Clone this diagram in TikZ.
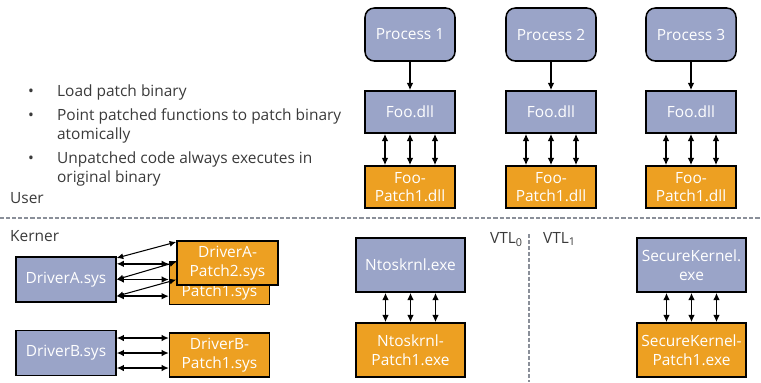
\documentclass[tikz,border=0pt]{standalone}
\usepackage{fontspec}
\setmainfont{Open Sans}
\usetikzlibrary{arrows.meta, positioning, calc}
\definecolor{pblue}{HTML}{9AA4C8}
\definecolor{porange}{HTML}{EDA022}
\definecolor{ptext}{HTML}{3A3A3A}
\definecolor{pgrey}{HTML}{8A8F99}
\tikzset{
  >=Latex,
  font=\fontsize{13.2}{16}\selectfont,
  modbox/.style={
    draw=black, fill=#1, line width=1.3pt, text=white, align=center,
    inner sep=2pt, font=\fontsize{13.2}{16}\selectfont
  },
  modbox/.default=pblue,
  procbox/.style={modbox, rounded corners=8pt, minimum width=2.7cm, minimum height=1.59cm},
  dllbox/.style={modbox=#1, minimum width=2.7cm, minimum height=1.26cm},
  dllbox/.default=pblue,
  exebox/.style={modbox=#1, minimum width=3.27cm, minimum height=1.62cm},
  exebox/.default=pblue,
  drvbox/.style={modbox=#1, minimum width=2.99cm, minimum height=1.35cm},
  drvbox/.default=pblue,
  onearr/.style={->, line width=1.6pt, >={Latex[length=2.2mm,width=2mm]}},
  dblarr/.style={<->, line width=1.6pt, >={Latex[length=2.2mm,width=2mm]}},
  thinarr/.style={<->, line width=0.9pt, >={Latex[length=2mm,width=1.8mm]}},
  sepline/.style={pgrey, line width=1.1pt, dash pattern=on 3.5pt off 1.7pt},
  lab/.style={text=ptext, anchor=base west}
}
\begin{document}
\begin{tikzpicture}[x=0.03cm, y=-0.03cm]
  \useasboundingbox (0,0) rectangle (761,382);
  % bullets
  \foreach \yy/\txt [count=\i] in {96/Load patch binary,
      120/Point patched functions to patch binary, 139/atomically,
      163/Unpatched code always executes in, 182/original binary}
    \node[lab] (item\i) at (53,\yy) {\txt};
  \foreach \i in {1,2,4}
    \node[lab, anchor=base east] (dot\i) at ([xshift=-0.45cm]item\i.base west) {\textbullet};
  \node[lab] (user) at (6,203) {User};
  \node[lab] (kerner) at (6,241) {Kerner};
  \draw[sepline] (0,218) -- (761,218);
  \draw[sepline] (529,234) -- (529,382);
  \node[lab] (vtl0) at (486,243) {VTL\textsubscript{0}};
  \node[lab] (vtl1) at (539,243) {VTL\textsubscript{1}};
  % user processes
  \foreach \xx/\n in {410/1, 551/2, 691/3} {
    \node[procbox, fill=pblue] (proc\n) at (\xx,34.5) {Process \n};
    \node[dllbox] (foo\n) at (\xx,112) {Foo.dll};
    \node[dllbox=porange] (foop\n) at (\xx,187) {Foo-\\Patch1.dll};
    \draw[onearr] (proc\n) -- (foo\n);
    \foreach \dx in {-0.75,0,0.75}
      \draw[dblarr] ([xshift=\dx cm]foo\n.south) -- ([xshift=\dx cm]foop\n.north);
  }
  % kernel images
  \node[exebox] (ntos) at (410.5,265) {Ntoskrnl.exe};
  \node[exebox=porange] (ntosp) at (410.5,350) {Ntoskrnl-\\Patch1.exe};
  \node[exebox] (sk) at (691.5,265) {SecureKernel.\\exe};
  \node[exebox=porange] (skp) at (691.5,350) {SecureKernel-\\Patch1.exe};
  \foreach \dx in {-0.75,0,0.75} {
    \draw[dblarr] ([xshift=\dx cm]ntos.south) -- ([xshift=\dx cm]ntosp.north);
    \draw[dblarr] ([xshift=\dx cm]sk.south) -- ([xshift=\dx cm]skp.north);
  }
  % drivers
  \node[drvbox] (drva) at (66,279.5) {DriverA.sys};
  \node[drvbox=porange, minimum height=1.3cm] (drvap1) at (219.5,283) {DriverA-\\Patch1.sys};
  \node[drvbox=porange, minimum width=3.03cm, minimum height=1.32cm] (drvap2) at (227.5,263) {DriverA-\\Patch2.sys};
  \node[drvbox] (drvb) at (66,353) {DriverB.sys};
  \node[drvbox=porange, minimum height=1.32cm] (drvbp1) at (219.5,355) {DriverB-\\Patch1.sys};
  \foreach \dy in {0.47,0,-0.5}
    \draw[dblarr] ([yshift=\dy cm]drva.east) -- ([yshift=\dy cm]drva.east -| drvap1.west);
  \draw[thinarr] ([yshift=0.645cm]drva.east) -- ([yshift=0.63cm]drvap2.west);
  \draw[thinarr] (drva.east) -- ([yshift=0.03cm]drvap2.west);
  \draw[thinarr] ([yshift=-0.5cm]drva.east) -- ([yshift=-0.5cm]drvap2.west);
  \foreach \dy in {0.45,0,-0.45}
    \draw[dblarr] ([yshift=\dy cm]drvb.east) -- ([yshift=\dy cm]drvb.east -| drvbp1.west);
\end{tikzpicture}
\end{document}
